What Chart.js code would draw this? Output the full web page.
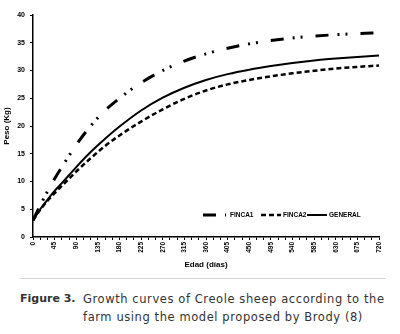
<!DOCTYPE html>
<html>
<head>
<meta charset="utf-8">
<script src="https://cdn.jsdelivr.net/npm/chart.js@4"></script>
<style>
  body{margin:0;width:400px;height:334px;position:relative;background:#fff;overflow:hidden}
  #wrap{position:absolute;left:0;top:0;width:400px;height:275px}
  .rule{position:absolute;left:20px;top:278px;width:366px;border-top:1px solid #d4d4d4}
  .fig{position:absolute;left:20px;top:290px;font:bold 11px/18px 'DejaVu Sans',sans-serif;color:#333}
  .cap{position:absolute;left:83px;top:290px;font:11.5px/18px 'DejaVu Sans',sans-serif;letter-spacing:0.58px;color:#333;white-space:nowrap}
</style>
</head>
<body>
<div id="wrap"><canvas id="c" width="400" height="275"></canvas></div>
<div class="rule"></div>
<div class="fig">Figure 3.</div>
<div class="cap">Growth curves of Creole sheep according to the<br>farm using the model proposed by Brody (8)</div>
<script>
// Edad (días)
const days    = [0, 15, 30, 45, 60, 90, 120, 150, 180, 225, 270, 315, 360, 405, 450, 495, 540, 585, 630, 675, 720];
// Peso (Kg)
const finca1  = [3.0, 5.7, 8.2, 10.5, 12.6, 16.6, 20.0, 22.8, 25.0, 27.8, 30.0, 31.7, 33.0, 34.0, 34.8, 35.4, 35.85, 36.2, 36.45, 36.65, 36.8];
const finca2  = [3.0, 4.9, 6.5, 7.9, 9.2, 11.8, 14.2, 16.4, 18.3, 20.8, 23.0, 24.9, 26.4, 27.5, 28.3, 28.95, 29.5, 29.95, 30.35, 30.65, 30.9];
const general = [3.0, 5.0, 6.7, 8.3, 9.7, 12.6, 15.3, 17.7, 19.9, 22.8, 25.1, 26.9, 28.3, 29.35, 30.15, 30.8, 31.35, 31.8, 32.15, 32.45, 32.7];
const seriesNames = ['FINCA1', 'FINCA2', 'GENERAL'];
const yTicks = [0, 5, 10, 15, 20, 25, 30, 35, 40];
const xLabelStep = 45;

const toXY = arr => arr.map((v, i) => ({x: days[i], y: v}));

const legendPlugin = {
  id: 'customLegend',
  afterDraw(chart) {
    const ctx = chart.ctx;
    const ds = chart.data.datasets;
    const items = [
      {i: 0, x0: 203, x1: 226, tx: 230},
      {i: 1, x0: 261, x1: 281, tx: 283},
      {i: 2, x0: 307, x1: 327, tx: 329}
    ];
    const y = 215;
    ctx.save();
    ctx.font = 'bold 6.5px "Liberation Sans", Arial, sans-serif';
    ctx.fillStyle = '#000';
    ctx.textBaseline = 'middle';
    items.forEach(it => {
      const d = ds[it.i];
      ctx.strokeStyle = '#000';
      ctx.lineWidth = d.borderWidth;
      ctx.setLineDash(d.borderDash || []);
      ctx.beginPath();
      ctx.moveTo(it.x0, y);
      ctx.lineTo(it.x1, y);
      ctx.stroke();
      ctx.setLineDash([]);
      ctx.fillText(d.label, it.tx, y + 0.5);
    });
    ctx.restore();
  }
};

new Chart(document.getElementById('c'), {
  type: 'line',
  data: {
    datasets: [
      {label: seriesNames[0], data: toXY(finca1), borderColor: '#000', borderWidth: 3, borderDash: [13, 9, 2, 6, 2, 13], pointRadius: 0, cubicInterpolationMode: 'monotone', fill: false},
      {label: seriesNames[1], data: toXY(finca2), borderColor: '#000', borderWidth: 2.5, borderDash: [5, 3], pointRadius: 0, cubicInterpolationMode: 'monotone', fill: false},
      {label: seriesNames[2], data: toXY(general), borderColor: '#000', borderWidth: 2, pointRadius: 0, cubicInterpolationMode: 'monotone', fill: false}
    ]
  },
  options: {
    responsive: false,
    animation: false,
    devicePixelRatio: 1,
    layout: {padding: {top: 15, right: 21, bottom: 2, left: 0}},
    plugins: {legend: {display: false}, tooltip: {enabled: false}},
    scales: {
      x: {
        type: 'linear',
        min: 0, max: 720,
        afterFit(s) { s.height = 36; },
        border: {display: true, color: '#000', width: 1.5},
        grid: {display: true, drawOnChartArea: false, drawTicks: true, tickLength: 3, color: '#000', lineWidth: 1},
        ticks: {
          stepSize: 15, autoSkip: false, minRotation: 90, maxRotation: 90, padding: 2,
          color: '#000', font: {family: '"Liberation Sans", Arial, sans-serif', size: 6.5, weight: 'bold'},
          callback: v => (v % xLabelStep === 0 ? String(v) : '')
        },
        title: {display: true, text: 'Edad (días)', color: '#000', padding: {top: 2, bottom: 3}, font: {family: '"Liberation Sans", Arial, sans-serif', size: 8, weight: 'bold'}}
      },
      y: {
        min: 0, max: 40,
        afterFit(s) { s.width = 33; },
        afterBuildTicks(s) { s.ticks = yTicks.map(v => ({value: v})); },
        border: {display: true, color: '#000', width: 1.5},
        grid: {display: true, drawOnChartArea: false, drawTicks: true, tickLength: 3, color: '#000', lineWidth: 1},
        ticks: {padding: 5, color: '#000', font: {family: '"Liberation Sans", Arial, sans-serif', size: 7, weight: 'bold'}},
        title: {display: true, text: 'Peso (Kg)', color: '#000', padding: {top: 2, bottom: 2}, font: {family: '"Liberation Sans", Arial, sans-serif', size: 8, weight: 'bold'}}
      }
    }
  },
  plugins: [legendPlugin]
});
</script>
</body>
</html>
